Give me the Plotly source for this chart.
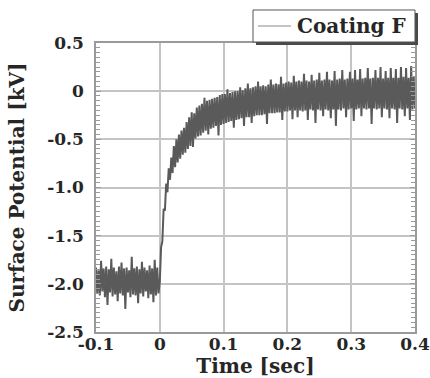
import plotly.graph_objects as go

# Sampling of the trace: start time and step in seconds
t_start = -0.1
t_step = 0.002

# Surface potential [kV], every 2 ms from -0.1 s to 0.4 s
potential = [
    # -0.100 .. -0.002 s
    -1.83, -2.10, -1.86, -2.12, -1.76, -2.08, -1.84, -2.14, -1.82, -2.22,
    -1.85, -2.09, -1.74, -2.13, -1.83, -2.11, -1.87, -2.18, -1.82, -2.10,
    -1.78, -2.12, -1.84, -2.26, -1.83, -2.09, -1.86, -2.14, -1.72, -2.11,
    -1.84, -2.12, -1.82, -2.20, -1.85, -2.10, -1.77, -2.13, -1.83, -2.08,
    -1.86, -2.15, -1.81, -2.11, -1.84, -2.19, -1.75, -2.12, -1.83, -2.10,
    # 0.000 .. 0.018 s
    -1.98, -1.62, -1.56, -1.22, -1.24, -0.96, -1.05, -0.80, -0.92, -0.69,
    # 0.020 .. 0.038 s
    -0.85, -0.57, -0.79, -0.50, -0.74, -0.45, -0.70, -0.41, -0.66, -0.38,
    # 0.040 .. 0.058 s
    -0.64, -0.32, -0.60, -0.27, -0.57, -0.22, -0.58, -0.23, -0.49, -0.17,
    # 0.060 .. 0.078 s
    -0.47, -0.15, -0.46, -0.13, -0.43, -0.07, -0.41, -0.10, -0.45, -0.09,
    # 0.080 .. 0.098 s
    -0.39, -0.08, -0.38, -0.07, -0.36, -0.06, -0.46, -0.04, -0.35, -0.03,
    # 0.100 .. 0.118 s
    -0.34, -0.03, -0.33, 0.02, -0.32, -0.02, -0.31, -0.01, -0.38, 0.00,
    # 0.120 .. 0.138 s
    -0.30, 0.00, -0.29, 0.04, -0.28, 0.01, -0.36, 0.03, -0.27, 0.08,
    # 0.140 .. 0.158 s
    -0.27, 0.03, -0.33, 0.04, -0.26, 0.05, -0.25, 0.10, -0.25, 0.05,
    # 0.160 .. 0.178 s
    -0.25, 0.06, -0.24, 0.05, -0.34, 0.07, -0.23, 0.12, -0.23, 0.07,
    # 0.180 .. 0.198 s
    -0.23, 0.08, -0.22, 0.07, -0.22, 0.15, -0.30, 0.08, -0.21, 0.09,
    # 0.200 .. 0.218 s
    -0.21, 0.10, -0.20, 0.09, -0.29, 0.16, -0.20, 0.10, -0.27, 0.11,
    # 0.220 .. 0.238 s
    -0.20, 0.10, -0.21, 0.18, -0.20, 0.11, -0.30, 0.10, -0.19, 0.17,
    # 0.240 .. 0.258 s
    -0.20, 0.11, -0.33, 0.12, -0.19, 0.19, -0.20, 0.11, -0.26, 0.12,
    # 0.260 .. 0.278 s
    -0.19, 0.20, -0.20, 0.12, -0.28, 0.11, -0.19, 0.21, -0.36, 0.12,
    # 0.280 .. 0.298 s
    -0.19, 0.13, -0.20, 0.22, -0.18, 0.12, -0.27, 0.13, -0.19, 0.20,
    # 0.300 .. 0.318 s
    -0.18, 0.13, -0.31, 0.22, -0.19, 0.12, -0.18, 0.23, -0.26, 0.13,
    # 0.320 .. 0.338 s
    -0.18, 0.14, -0.19, 0.24, -0.18, 0.13, -0.34, 0.14, -0.18, 0.22,
    # 0.340 .. 0.358 s
    -0.19, 0.14, -0.18, 0.25, -0.27, 0.13, -0.18, 0.21, -0.19, 0.14,
    # 0.360 .. 0.378 s
    -0.28, 0.24, -0.18, 0.14, -0.19, 0.23, -0.33, 0.14, -0.18, 0.25,
    # 0.380 .. 0.400 s
    -0.19, 0.15, -0.26, 0.24, -0.18, 0.14, -0.30, 0.26, -0.19, 0.15, -0.18,
]

x_tickvals = [-0.1, 0, 0.1, 0.2, 0.3, 0.4]
x_ticktext = ["-0.1", "0", "0.1", "0.2", "0.3", "0.4"]
y_tickvals = [0.5, 0, -0.5, -1.0, -1.5, -2.0, -2.5]
y_ticktext = ["0.5", "0", "-0.5", "-1.0", "-1.5", "-2.0", "-2.5"]
series_name = "Coating F"

FONT = "DejaVu Serif"
TXT = "#262626"
GRID = "#c4c4c4"
FRAME = "#9a9a9a"
TRACE = "#5a5a5a"

fig = go.Figure()
fig.add_trace(go.Scatter(
    x0=t_start, dx=t_step, y=potential, mode="lines", name=series_name,
    line=dict(color=TRACE, width=2), showlegend=False,
))

# Boxed legend with drop shadow (placed in the top margin, right-aligned)
legend_shapes = [
    dict(type="rect", xref="paper", yref="paper",
         x0=0.5016, x1=1.0094, y0=0.9931, y1=1.1038,
         fillcolor="#4a4a4a", line=dict(width=0), layer="above"),
    dict(type="rect", xref="paper", yref="paper",
         x0=0.4922, x1=1.0, y0=1.0035, y1=1.1142,
         fillcolor="white", line=dict(color="#555555", width=1), layer="above"),
    dict(type="line", xref="paper", yref="paper",
         x0=0.5078, x1=0.6113, y0=1.0588, y1=1.0588,
         line=dict(color="#8a8a8a", width=1.2), layer="above"),
]
legend_text = dict(
    text=series_name, xref="paper", yref="paper", x=0.624, y=1.0588,
    xanchor="left", yanchor="middle", showarrow=False,
    font=dict(family=FONT, size=20, weight="bold", color=TXT),
)

fig.update_layout(
    width=430, height=378,
    margin=dict(l=96, r=15, t=43, b=46),
    paper_bgcolor="white", plot_bgcolor="white",
    font=dict(family=FONT, color=TXT),
    showlegend=False,
    shapes=legend_shapes,
    annotations=[legend_text],
)

fig.update_xaxes(
    range=[-0.1, 0.4], tickmode="array", tickvals=x_tickvals, ticktext=x_ticktext,
    showgrid=True, gridcolor=GRID, gridwidth=1.5, zeroline=False,
    showline=True, linecolor=FRAME, linewidth=1.5, mirror=True,
    ticks="", ticklabelstandoff=-4,
    tickfont=dict(family=FONT, size=17, weight="bold", color=TXT),
    title=dict(text="Time [sec]", standoff=0,
               font=dict(family=FONT, size=20, weight="bold", color=TXT)),
    automargin=False,
)
fig.update_yaxes(
    range=[-2.5, 0.5], tickmode="array", tickvals=y_tickvals, ticktext=y_ticktext,
    showgrid=True, gridcolor=GRID, gridwidth=1.5, zeroline=False,
    showline=True, linecolor=FRAME, linewidth=1.5, mirror="allticks",
    ticks="inside", ticklen=5, tickcolor=FRAME,
    minor=dict(dtick=0.05, ticks="inside", ticklen=4, tickcolor=FRAME, showgrid=False),
    ticklabelstandoff=7,
    tickfont=dict(family=FONT, size=17, weight="bold", color=TXT),
    title=dict(text="Surface Potential [kV]", standoff=17,
               font=dict(family=FONT, size=20, weight="bold", color=TXT)),
    automargin=False,
)

fig.write_html(
    "out.html",
    config={"displayModeBar": False},
    post_script="document.body.style.margin='0';",
)
